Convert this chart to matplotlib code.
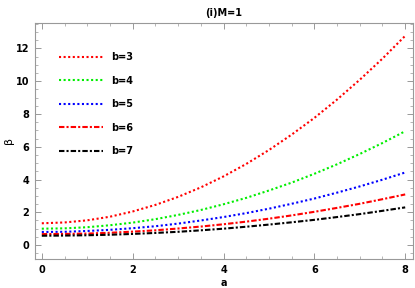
import matplotlib.pyplot as plt
from matplotlib.ticker import MultipleLocator

a_vals = [0, 0.5, 1, 1.5, 2, 2.5, 3, 3.5, 4, 4.5, 5, 5.5, 6, 6.5, 7, 7.5, 8]

beta_b3 = [1.33, 1.38, 1.51, 1.73, 2.05, 2.45, 2.94, 3.52, 4.19, 4.95, 5.80,
           6.74, 7.76, 8.88, 10.09, 11.38, 12.77]
beta_b4 = [1.00, 1.02, 1.09, 1.21, 1.37, 1.58, 1.84, 2.14, 2.49, 2.88, 3.33,
           3.81, 4.35, 4.93, 5.56, 6.23, 6.95]
beta_b5 = [0.80, 0.81, 0.86, 0.93, 1.03, 1.15, 1.31, 1.50, 1.71, 1.95, 2.22,
           2.52, 2.84, 3.20, 3.58, 3.99, 4.43]
beta_b6 = [0.67, 0.68, 0.70, 0.75, 0.82, 0.90, 1.01, 1.13, 1.27, 1.43, 1.61,
           1.81, 2.03, 2.27, 2.52, 2.80, 3.09]
beta_b7 = [0.57, 0.58, 0.60, 0.63, 0.68, 0.74, 0.81, 0.90, 1.00, 1.12, 1.25,
           1.39, 1.54, 1.71, 1.89, 2.09, 2.30]

labels = ['b=3', 'b=4', 'b=5', 'b=6', 'b=7']

series = [beta_b3, beta_b4, beta_b5, beta_b6, beta_b7]
colors = ['#ff0000', '#00ee00', '#0000ff', '#ff0000', '#000000']
dotted = (0, (1.0, 1.2))
dashdot = (0, (2.6, 1.0, 1.0, 1.0))
styles = [dotted, dotted, dotted, dashdot, dashdot]

fig = plt.figure(figsize=(4.15, 2.88), dpi=100)
ax = fig.add_axes([0.0843, 0.1007, 0.9107, 0.8193])

for ys, c, ls, lab in zip(series, colors, styles, labels):
    ax.plot(a_vals, ys, color=c, linestyle=ls, linewidth=1.5, label=lab,
            dash_capstyle='butt')

ax.set_xlim(-0.15, 8.17)
ax.set_ylim(-0.85, 13.55)
ax.xaxis.set_major_locator(MultipleLocator(2))
ax.xaxis.set_minor_locator(MultipleLocator(0.5))
ax.yaxis.set_major_locator(MultipleLocator(2))
ax.yaxis.set_minor_locator(MultipleLocator(0.5))

ax.tick_params(which='both', direction='in', top=True, right=True,
               color='#999999', labelsize=7, pad=4)
ax.tick_params(which='major', length=4, width=0.7)
ax.tick_params(which='minor', length=2, width=0.5)
for lbl in ax.get_xticklabels() + ax.get_yticklabels():
    lbl.set_fontweight('bold')
for sp in ax.spines.values():
    sp.set_color('#999999')
    sp.set_linewidth(0.8)

# axis labels placed by hand, close to the figure edges as in the original
fig.text(224 / 415, 1 - 283 / 288, 'a', fontsize=7, fontweight='bold',
         ha='center', va='center')
fig.text(9 / 415, 1 - 140 / 288, 'β', fontsize=8, rotation=90,
         ha='center', va='center')
ax.set_title('(i)M=1', fontsize=7, fontweight='bold', pad=5)

leg = ax.legend(loc='upper left', bbox_to_anchor=(0.041, 0.913), frameon=False,
                handlelength=4.5, handletextpad=0.8,
                labelspacing=1.39, prop={'weight': 'bold', 'size': 7})

fig.savefig('out.png', dpi=100)
